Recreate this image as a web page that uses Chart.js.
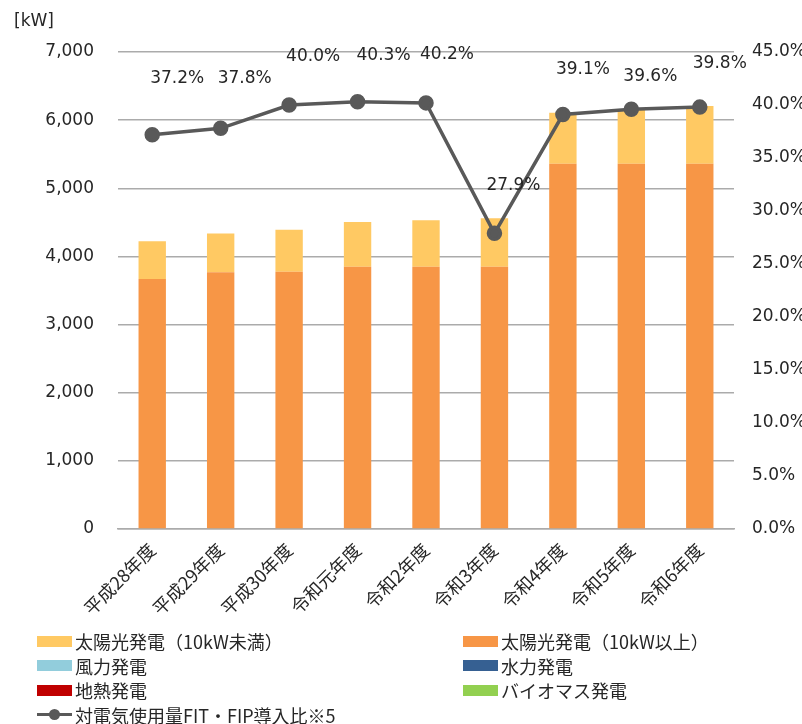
<!DOCTYPE html>
<html lang="ja">
<head>
<meta charset="utf-8">
<title>FIT・FIP導入量</title>
<script src="https://cdn.jsdelivr.net/npm/chart.js@4.4.1/dist/chart.umd.min.js"></script>
<style>
  html, body { margin: 0; padding: 0; background: #fff; }
  #wrap { position: relative; width: 802px; height: 724px; overflow: hidden; }
  #chartBox { position: absolute; left: 0; top: 0; width: 802px; height: 625px; }
  #legend { position: absolute; left: 0; top: 0; width: 802px; height: 724px; pointer-events: none;
            font-family: "Noto Sans CJK JP", "DejaVu Sans", sans-serif; font-size: 18px; color: #262626; }
  .item { position: absolute; height: 24px; display: flex; align-items: center; white-space: nowrap; }
  .sw { width: 35px; height: 11px; margin-right: 3px; flex: none; }
  .ln { position: relative; width: 35px; height: 11px; margin-right: 3px; flex: none; }
  .ln:before { content: ""; position: absolute; left: 0; right: 0; top: 4px; height: 3px; background: #595959; }
  .ln:after { content: ""; position: absolute; left: 12px; top: 0; width: 11px; height: 11px; border-radius: 50%; background: #595959; }
</style>
</head>
<body>
<div id="wrap">
  <div id="chartBox"><canvas id="fitChart"></canvas></div>
  <div id="legend"></div>
</div>
<script>
// 年度
var years = ['平成28年度', '平成29年度', '平成30年度', '令和元年度', '令和2年度', '令和3年度', '令和4年度', '令和5年度', '令和6年度'];
// kW
var solarSmall = [552, 571, 616, 658, 682, 711, 749, 797, 847];      // 太陽光発電（10kW未満）
var solarLarge = [3670, 3766, 3775, 3848, 3848, 3848, 5359, 5359, 5359]; // 太陽光発電（10kW以上）
var wind = [0, 0, 0, 0, 0, 0, 0, 0, 0];
var hydro = [0, 0, 0, 0, 0, 0, 0, 0, 0];
var geothermal = [0, 0, 0, 0, 0, 0, 0, 0, 0];
var biomass = [0, 0, 0, 0, 0, 0, 0, 0, 0];
// %
var fitRatio = [37.2, 37.8, 40.0, 40.3, 40.2, 27.9, 39.1, 39.6, 39.8];

var FONT = '"DejaVu Sans", "Noto Sans CJK JP", sans-serif';
var TEXT = '#262626';
var GRID = '#ababab';

// ラベルは元の図で手動配置されているので点ごとにずらす
var labelDx = [25, 24, 24, 26, 21, 19, 20, 19, 20];
var labelDy = [-56, -50, -48, -46, -48, -48, -45, -33, -44];

// [kW] と データラベル
var extraText = {
    id: 'extraText',
    afterDatasetsDraw: function (chart) {
        var ctx = chart.ctx;
        ctx.save();
        ctx.fillStyle = TEXT;
        ctx.font = '17px ' + FONT;
        ctx.textBaseline = 'middle';
        ctx.textAlign = 'left';
        ctx.fillText('[kW]', 14, 22);

        var meta = chart.getDatasetMeta(0);
        ctx.textAlign = 'center';
        meta.data.forEach(function (pt, i) {
            ctx.fillText(fitRatio[i].toFixed(1) + '%', pt.x + labelDx[i], pt.y + labelDy[i]);
        });
        ctx.restore();
    }
};

var fitChart = new Chart(document.getElementById('fitChart'), {
    data: {
        labels: years,
        datasets: [
            {type: 'line', label: '対電気使用量FIT・FIP導入比※5', data: fitRatio, yAxisID: 'y2',
             borderColor: '#595959', backgroundColor: '#595959', borderWidth: 3.5,
             pointRadius: 6, pointHoverRadius: 6, order: 0},
            {type: 'bar', label: '太陽光発電（10kW以上）', data: solarLarge, backgroundColor: '#f79646', stack: 's', order: 1},
            {type: 'bar', label: '太陽光発電（10kW未満）', data: solarSmall, backgroundColor: '#ffc963', stack: 's', order: 1},
            {type: 'bar', label: '風力発電', data: wind, backgroundColor: '#92cddc', stack: 's', order: 1},
            {type: 'bar', label: '水力発電', data: hydro, backgroundColor: '#366092', stack: 's', order: 1},
            {type: 'bar', label: '地熱発電', data: geothermal, backgroundColor: '#c00000', stack: 's', order: 1},
            {type: 'bar', label: 'バイオマス発電', data: biomass, backgroundColor: '#92d050', stack: 's', order: 1}
        ]
    },
    options: {
        responsive: true,
        maintainAspectRatio: false,
        animation: false,
        layout: {padding: {top: 52, right: 0, left: 0, bottom: 0}},
        datasets: {bar: {barPercentage: 0.5, categoryPercentage: 0.8}},
        plugins: {legend: {display: false}, tooltip: {enabled: false}},
        scales: {
            x: {
                stacked: true,
                grid: {display: false, drawTicks: false},
                border: {display: true, color: GRID, width: 1.5},
                ticks: {color: TEXT, font: {family: '"Noto Sans CJK JP", sans-serif', size: 18},
                        minRotation: 45, maxRotation: 45, padding: 10, autoSkip: false},
                afterFit: function (s) { s.height = 96; }
            },
            y: {
                stacked: true, position: 'left', min: 0, max: 7000,
                grid: {color: GRID, lineWidth: 1.5, drawTicks: false},
                border: {display: false},
                ticks: {stepSize: 1000, color: TEXT, font: {family: FONT, size: 17}, padding: 24,
                        callback: function (v) { return v.toLocaleString('en-US'); }},
                afterFit: function (s) { s.width = 118; }
            },
            y2: {
                position: 'right', min: 0, max: 45,
                grid: {drawOnChartArea: false, drawTicks: false},
                border: {display: false},
                ticks: {stepSize: 5, color: TEXT, font: {family: FONT, size: 17}, padding: 18,
                        callback: function (v) { return v.toFixed(1) + '%'; }},
                afterFit: function (s) { s.width = 68; }
            }
        }
    },
    plugins: [extraText]
});

// 凡例（2列）
var legendItems = [
    {label: '太陽光発電（10kW未満）', color: '#ffc963'},
    {label: '太陽光発電（10kW以上）', color: '#f79646'},
    {label: '風力発電', color: '#92cddc'},
    {label: '水力発電', color: '#366092'},
    {label: '地熱発電', color: '#c00000'},
    {label: 'バイオマス発電', color: '#92d050'},
    {label: '対電気使用量FIT・FIP導入比※5', line: true}
];
var legendBox = document.getElementById('legend');
legendItems.forEach(function (it, i) {
    var col = i % 2, row = Math.floor(i / 2);
    var div = document.createElement('div');
    div.className = 'item';
    div.style.left = (col ? 463 : 37) + 'px';
    div.style.top = (629 + row * 24.5) + 'px';
    var sw = document.createElement('span');
    if (it.line) { sw.className = 'ln'; } else { sw.className = 'sw'; sw.style.background = it.color; }
    div.appendChild(sw);
    div.appendChild(document.createTextNode(it.label));
    legendBox.appendChild(div);
});
</script>
</body>
</html>
